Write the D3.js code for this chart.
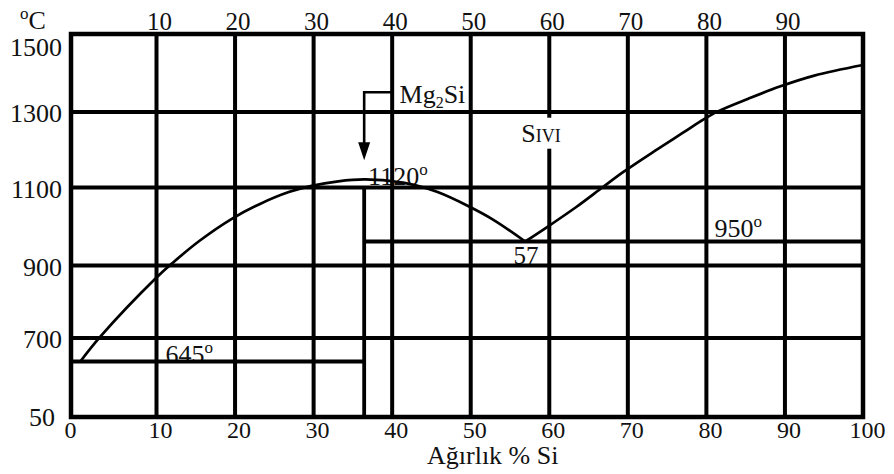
<!DOCTYPE html>
<html>
<head>
<meta charset="utf-8">
<script src="https://cdn.jsdelivr.net/npm/d3@7/dist/d3.min.js"></script>
<style>
  body { margin: 0; background: #fff; }
  svg text { font-family: "Liberation Serif", "Times New Roman", serif; fill: #111; }
</style>
</head>
<body>
<svg id="chart" width="894" height="474"></svg>
<script>
// Mg–Si equilibrium diagram: temperature (°C) against weight % Si

// axis tick labels
const topTicks    = [10, 20, 30, 40, 50, 60, 70, 80, 90];
const bottomTicks = [0, 10, 20, 30, 40, 50, 60, 70, 80, 90, 100];
const tempTicks   = [50, 700, 900, 1100, 1300, 1500];

// grid
const siGrid   = [10, 20, 30, 40, 50, 60, 70, 80, 90];
const tempGrid = [700, 900, 1100, 1300];

// invariant points
const compoundSi   = 36.5;  // Mg2Si
const compoundMelt = 1120;
const eutecticMgT  = 645;
const eutecticSiX  = 57;
const eutecticSiT  = 950;

// liquidus: Mg side, over the Mg2Si maximum, down to the Si-side eutectic
const liquidusMg = [
  [1.1, 645], [3.4, 701], [10, 864], [12.15, 905], [15.55, 952], [19.7, 1013],
  [23.1, 1052], [26.9, 1086], [29.8, 1103], [33.2, 1115], [36.5, 1120],
  [39.7, 1116], [42.95, 1105], [45.85, 1086], [49.6, 1049], [53.0, 1009], [57, 950]
];
// liquidus: eutectic up to pure Si
const liquidusSi = [
  [57, 950], [59.6, 987], [63.5, 1045], [66.9, 1100], [69.5, 1140], [73.6, 1197],
  [77.4, 1248], [79.3, 1274], [81.6, 1301], [85.4, 1334], [89.4, 1366], [93.8, 1395], [100, 1423]
];

// Mg2Si pointer (bracket from the 40 % line down to the compound)
const pointerTopT = 1351;
const pointerTipT = 1171;

const svg = d3.select("#chart");

// hand-ruled axes: slightly uneven divisions, broken temperature axis below 645
const x = d3.scaleLinear().domain([0, 10, 100]).range([71, 156, 863]);
const y = d3.scaleLinear()
  .domain([50, 645, 700, 900, 950, 1100, 1300, 1505])
  .range([417, 361.5, 337.5, 265, 241.5, 187, 111.5, 34]);

const X0 = x(0), X1 = x(100), Y0 = y(1505), Y1 = y(50);

function degree(sel) {
  sel.append("tspan").attr("font-size", 17).attr("dy", -10).text("o");
}

// labels sitting on their isotherms (lines are drawn over them)
const under = svg.append("g");
under.append("text").attr("x", x(11.2)).attr("y", y(eutecticMgT) + 1.5)
  .attr("font-size", 26).text(eutecticMgT).call(degree);
under.append("text").attr("x", x(37)).attr("y", y(1100) - 2)
  .attr("font-size", 26).text(compoundMelt).call(degree);
under.append("text").attr("x", x(55.5)).attr("y", y(900) - 1)
  .attr("font-size", 25).text(eutecticSiX);
under.append("text").attr("x", x(81.1)).attr("y", y(eutecticSiT) - 5)
  .attr("font-size", 26).text(eutecticSiT).call(degree);

// grid through the axis generators
const vGrid = svg.append("g").attr("transform", `translate(0,${Y1})`)
  .call(d3.axisBottom(x).tickValues(siGrid).tickSize(-(Y1 - Y0)).tickFormat(""));
const hGrid = svg.append("g").attr("transform", `translate(${X0},0)`)
  .call(d3.axisLeft(y).tickValues(tempGrid).tickSize(-(X1 - X0)).tickFormat(""));
[vGrid, hGrid].forEach(g => {
  g.select(".domain").remove();
  g.selectAll(".tick line").attr("stroke", "#000").attr("stroke-width", 4);
});

// partial isotherms and the Mg2Si composition line
const ruled = svg.append("g").attr("stroke", "#000").attr("stroke-width", 3.8);
ruled.append("line").attr("x1", X0).attr("x2", x(compoundSi))
  .attr("y1", y(eutecticMgT)).attr("y2", y(eutecticMgT));
ruled.append("line").attr("x1", x(compoundSi)).attr("x2", X1)
  .attr("y1", y(eutecticSiT)).attr("y2", y(eutecticSiT));
ruled.append("line").attr("x1", x(compoundSi)).attr("x2", x(compoundSi))
  .attr("y1", y(1100)).attr("y2", Y1);

// frame
svg.append("rect").attr("x", X0).attr("y", Y0)
  .attr("width", X1 - X0).attr("height", Y1 - Y0)
  .attr("fill", "none").attr("stroke", "#000").attr("stroke-width", 4.5);

// liquidus curves
const line = d3.line().x(d => x(d[0])).y(d => y(d[1])).curve(d3.curveCatmullRom.alpha(0.5));
svg.selectAll(".liquidus").data([liquidusMg, liquidusSi]).join("path")
  .attr("class", "liquidus").attr("d", line)
  .attr("fill", "none").attr("stroke", "#000").attr("stroke-width", 2.7)
  .attr("stroke-linejoin", "round");

// Mg2Si pointer
const tipY = y(pointerTipT), cx = x(compoundSi);
svg.append("path")
  .attr("d", `M${x(40)},${y(pointerTopT)}H${cx}V${tipY - 16}`)
  .attr("fill", "none").attr("stroke", "#000").attr("stroke-width", 2.6);
svg.append("path")
  .attr("d", `M${cx - 6},${tipY - 18}L${cx + 6},${tipY - 18}L${cx},${tipY}Z`)
  .attr("fill", "#000");

const mg = svg.append("text").attr("x", x(41)).attr("y", y(1322)).attr("font-size", 26);
mg.append("tspan").text("Mg");
mg.append("tspan").attr("font-size", 16).attr("dy", 5).text("2");
mg.append("tspan").attr("dy", -5).text("Si");

// liquid region label, cleared out of the 60 % line
const liq = svg.append("g");
const liqText = liq.append("text").attr("x", x(56.5)).attr("y", y(1220))
  .attr("font-size", 26).style("font-variant", "small-caps").text("Sıvı");
const bb = liqText.node().getBBox();
liq.insert("rect", "text").attr("x", bb.x - 1).attr("y", bb.y - 1)
  .attr("width", bb.width + 2).attr("height", bb.height + 2).attr("fill", "#fff");

// axis labels
const fmt = d3.format("d");
const topAxis = svg.append("g").attr("transform", `translate(0,${Y0})`)
  .call(d3.axisTop(x).tickValues(topTicks).tickFormat(fmt).tickSize(0).tickPadding(4));
topAxis.selectAll(".tick text").attr("font-size", 25).attr("x", 3);

const bottomAxis = svg.append("g").attr("transform", `translate(0,${Y1})`)
  .call(d3.axisBottom(x).tickValues(bottomTicks).tickFormat(fmt).tickSize(0).tickPadding(4));
bottomAxis.selectAll(".tick text").attr("font-size", 24).attr("x", d => d === 0 ? -1 : 4);

const leftAxis = svg.append("g").attr("transform", `translate(${X0},0)`)
  .call(d3.axisLeft(y).tickValues(tempTicks).tickFormat(fmt).tickSize(0).tickPadding(9));
leftAxis.selectAll(".tick text").attr("font-size", 26)
  .attr("y", d => d === 1500 ? 11 : d === 50 ? 0 : 2)
  .attr("x", d => d === 50 ? -16 : -9);

[topAxis, bottomAxis, leftAxis].forEach(g => {
  g.select(".domain").remove();
  g.selectAll(".tick text").attr("fill", "#111")
    .attr("font-family", "'Liberation Serif', 'Times New Roman', serif");
});

// unit and axis title
const unit = svg.append("text").attr("x", 20).attr("y", 29).attr("font-size", 26);
unit.append("tspan").attr("font-size", 17).attr("dy", -10).text("o");
unit.append("tspan").attr("dy", 10).text("C");

svg.append("text").attr("x", 427).attr("y", 464).attr("font-size", 26)
  .text("Ağırlık % Si");
</script>
</body>
</html>
